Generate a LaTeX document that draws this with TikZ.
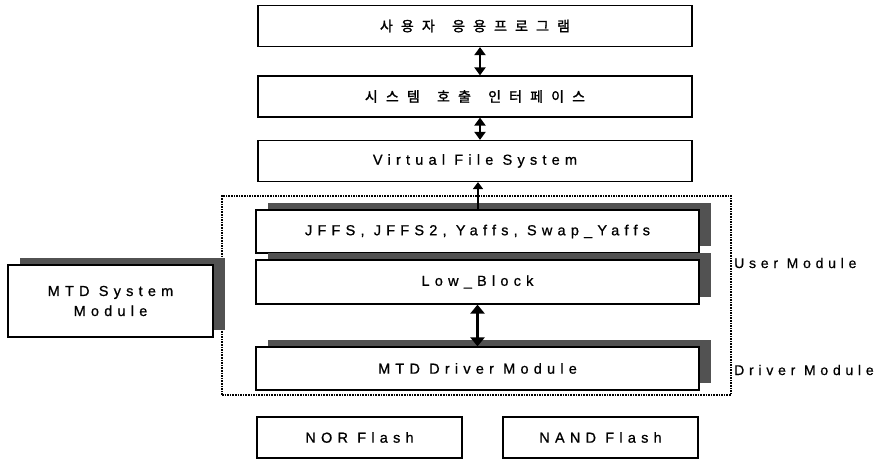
\documentclass[tikz,border=0pt]{standalone}
\usepackage{fontspec}
\usetikzlibrary{arrows.meta,shadows}
\newfontfamily\latf{Liberation Sans}[LetterSpace=36,FakeBold=0.8]
\newfontfamily\lblf{Liberation Sans}[LetterSpace=34,FakeBold=0.6]
\newfontfamily\korf{Noto Sans CJK KR}[LetterSpace=58,FakeBold=1.6]
\newcommand{\kgap}{\hspace{6pt}}
\definecolor{shadowgray}{gray}{0.32}
\begin{document}
\begin{tikzpicture}[x=1pt,y=-1pt,
  box/.style={draw=black,line width=1.2pt,fill=white,minimum width=434pt,minimum height=41pt,inner sep=0pt,font=\latf\fontsize{14.5}{16}\selectfont},
  sbox/.style={box,drop shadow={shadow xshift=12pt,shadow yshift=7pt,fill=shadowgray,opacity=1,draw=none}},
  kbox/.style={box,font=\korf\fontsize{14}{16}\selectfont},
  lbl/.style={anchor=west,inner sep=0pt,font=\lblf\fontsize{14}{16}\selectfont},
  arr/.style={line width=2pt,{Triangle[width=11pt,length=8pt]}-{Triangle[width=11pt,length=8pt]}},
  uarr/.style={line width=1.8pt,-{Triangle[width=10pt,length=7pt]}},
  barr/.style={line width=3.6pt,{Triangle[width=14pt,length=9pt]}-{Triangle[width=14pt,length=9pt]}},
  grp/.style={draw=black,line width=1.6pt,densely dotted,minimum width=509pt,minimum height=199pt,inner sep=0pt}
]
\useasboundingbox (0,0) rectangle (876,462);
% top stack
\node[kbox] (app) at (475,26) {사용자 \kgap 응용프로그램};
\node[kbox] (sci) at (475,96.5) {시스템 \kgap 호출 \kgap 인터페이스};
\node[box] (vfs) at (475,161) {Virtual File System};
% dotted group
\node[grp] (group) at (476.5,295.5) {};
% modules with shadows
\node[sbox,minimum width=443pt,minimum height=43pt] (jffs) at (477.5,231.5) {JFFS, JFFS2, Yaffs, Swap\_Yaffs};
\node[sbox,minimum width=443pt,minimum height=44pt] (low) at (477.5,282) {Low\_Block};
\node[sbox,minimum width=443pt,minimum height=43pt] (mtd) at (477.5,368.5) {MTD Driver Module};
\node[sbox,minimum width=205pt,minimum height=72pt,align=center] (sys) at (110.5,301) {MTD System\\[4pt]Module};
% flash
\node[box,minimum width=205pt,minimum height=41pt] (nor) at (359.5,437.5) {NOR Flash};
\node[box,minimum width=195pt,minimum height=41pt] (nand) at (600.5,437.5) {NAND Flash};
% labels
\node[lbl] (um) at (734,263) {User Module};
\node[lbl] (dm) at (734,370) {Driver Module};
% arrows
\draw[arr] ([xshift=5pt]app.south) -- ([xshift=5pt]sci.north);
\draw[arr] ([xshift=5pt]sci.south) -- ([xshift=5pt]vfs.north);
\draw[uarr] ([xshift=0.5pt]jffs.north) -- ([xshift=3pt]vfs.south);
\draw[barr] (low.south) -- (mtd.north);
\end{tikzpicture}
\end{document}
